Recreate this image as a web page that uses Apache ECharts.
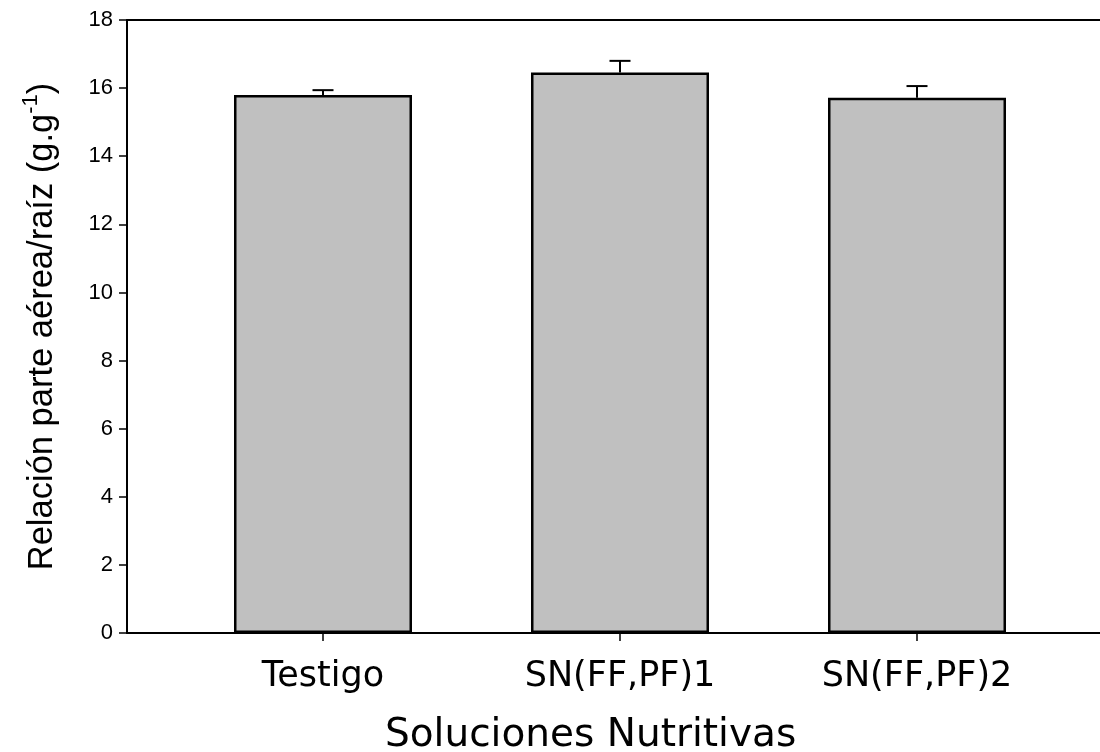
<!DOCTYPE html>
<html>
<head>
<meta charset="utf-8">
<script src="https://cdn.jsdelivr.net/npm/echarts@6/dist/echarts.min.js"></script>
<style>
  html, body { margin: 0; padding: 0; background: #fff; }
  #chart { width: 1100px; height: 752px; }
</style>
</head>
<body>
<div id="chart"></div>
<script>
var categories = ['Testigo', 'SN(FF,PF)1', 'SN(FF,PF)2'];
var means = [15.80, 16.46, 15.72];
var errors = [0.14, 0.34, 0.34];
var yTicks = [0, 18, 2]; // min, max, interval

var chart = echarts.init(document.getElementById('chart'));
var font = 'Liberation Sans, Arial, sans-serif';
var wide = 'DejaVu Sans, sans-serif';

var errData = [];
for (var i = 0; i < categories.length; i++) {
    errData.push([i, means[i], means[i] + errors[i]]);
}

var option = {
    backgroundColor: '#fff',
    animation: false,
    grid: [
        { left: 127, right: 0, top: 20, bottom: 119 },
        { left: 174.5, right: 34.5, top: 20, bottom: 119 }
    ],
    xAxis: [
        {
            gridIndex: 0, type: 'value', position: 'bottom', min: 0, max: 1,
            axisLine: { show: true, lineStyle: { color: '#000', width: 2 } },
            axisTick: { show: false }, axisLabel: { show: false }, splitLine: { show: false }
        },
        {
            gridIndex: 0, type: 'value', position: 'top', min: 0, max: 1,
            axisLine: { show: true, lineStyle: { color: '#000', width: 2 } },
            axisTick: { show: false }, axisLabel: { show: false }, splitLine: { show: false }
        },
        {
            gridIndex: 1, type: 'category', data: categories, position: 'bottom',
            axisLine: { show: false },
            axisTick: { show: true, alignWithLabel: true, length: 8, lineStyle: { color: '#000', width: 1.5 } },
            axisLabel: { color: '#000', fontSize: 35, fontFamily: wide, margin: 26 }
        }
    ],
    yAxis: [
        {
            gridIndex: 0, type: 'value', min: yTicks[0], max: yTicks[1], interval: yTicks[2],
            axisLine: { show: true, lineStyle: { color: '#000', width: 2 } },
            axisTick: { show: true, length: 8, lineStyle: { color: '#000', width: 1.5 } },
            axisLabel: { color: '#000', fontSize: 22, fontFamily: font, margin: 14 },
            splitLine: { show: false },
            name: '{n|Relación parte aérea/raíz (g.g}{s|-1}{n|)}',
            nameLocation: 'middle',
            nameGap: 67,
            nameRotate: 90,
            nameTextStyle: {
                rich: {
                    n: { fontSize: 34.5, fontFamily: font, color: '#000', lineHeight: 40, verticalAlign: 'bottom' },
                    s: { fontSize: 22, fontFamily: font, color: '#000', lineHeight: 40, verticalAlign: 'top', padding: [0, 0, 14, 0] }
                }
            }
        },
        {
            gridIndex: 1, type: 'value', min: yTicks[0], max: yTicks[1], interval: yTicks[2], show: false
        }
    ],
    graphic: [{
        type: 'text',
        left: 385, top: 716,
        style: { text: 'Soluciones Nutritivas', fontSize: 39, fontFamily: wide, fill: '#000' }
    }],
    series: [
        {
            type: 'bar',
            xAxisIndex: 2, yAxisIndex: 1,
            data: means,
            barWidth: 178,
            itemStyle: { color: '#c0c0c0', borderColor: '#000', borderWidth: 2.5 }
        },
        {
            type: 'custom',
            xAxisIndex: 2, yAxisIndex: 1,
            data: errData,
            z: 1,
            renderItem: function (params, api) {
                var x = api.value(0);
                var lo = api.coord([x, api.value(1)]);
                var hi = api.coord([x, api.value(2)]);
                var hw = 10.5;
                var st = { stroke: '#000', lineWidth: 2 };
                return {
                    type: 'group',
                    children: [
                        { type: 'line', shape: { x1: lo[0], y1: lo[1], x2: hi[0], y2: hi[1] }, style: st },
                        { type: 'line', shape: { x1: hi[0] - hw, y1: hi[1], x2: hi[0] + hw, y2: hi[1] }, style: st }
                    ]
                };
            }
        }
    ]
};

chart.setOption(option);
</script>
</body>
</html>
